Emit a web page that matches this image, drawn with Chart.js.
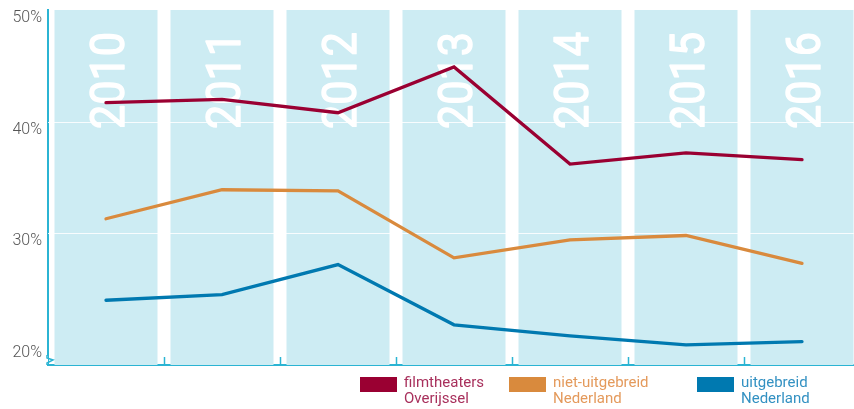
<!DOCTYPE html>
<html>
<head>
<meta charset="utf-8">
<script src="https://cdn.jsdelivr.net/npm/chart.js@4.4.1/dist/chart.umd.min.js"></script>
<style>
  html, body { margin: 0; padding: 0; background: #fff; overflow: hidden; width: 854px; height: 409px; }
  #wrap { position: absolute; left: 0; top: 0; width: 862px; height: 409px; }
  .leg { position: absolute; top: 374px; font-family: Roboto, sans-serif; font-size: 15px; line-height: 16px; }
  .leg .box { position: absolute; left: 0; top: 3px; width: 37px; height: 15px; }
  .leg .txt { position: absolute; left: 44px; top: 0; white-space: nowrap; }
</style>
</head>
<body>
<div id="wrap"><canvas id="c"></canvas></div>
<div id="legend"></div>
<script>
// ---- data ----
const years = ['2010', '2011', '2012', '2013', '2014', '2015', '2016'];
const filmtheatersOverijssel = [41.7, 42.0, 40.8, 44.9, 36.2, 37.2, 36.6];
const nietUitgebreidNederland = [31.3, 33.9, 33.8, 27.8, 29.4, 29.8, 27.3];
const uitgebreidNederland = [24.0, 24.5, 27.2, 21.8, 20.8, 20.0, 20.3];
const yTickValues = [20, 30, 40, 50];
const seriesNames = [['filmtheaters', 'Overijssel'], ['niet-uitgebreid', 'Nederland'], ['uitgebreid', 'Nederland']];

const Y_MIN = 18.2, Y_MAX = 50;
const colors = ['#9a0032', '#d98a3d', '#0079b0'];
const textColors = ['#a8305c', '#e49a5c', '#3391c2'];
const AXIS = '#2bb4d3';
const BAND = '#cdecf3';

// ---- legend (HTML) ----
const legendX = [360, 509, 697];
const legEl = document.getElementById('legend');
seriesNames.forEach((n, i) => {
  const d = document.createElement('div');
  d.className = 'leg';
  d.style.left = legendX[i] + 'px';
  d.innerHTML = '<div class="box" style="background:' + colors[i] + '"></div><div class="txt" style="color:' + textColors[i] + '">' + n.join('<br>') + '</div>';
  legEl.appendChild(d);
});

const decor = {
  id: 'decor',
  afterDatasetDraw(chart, args) {
    if (args.index !== 0) return;
    const ctx = chart.ctx, x = chart.scales.x, y = chart.scales.y, ca = chart.chartArea;
    ctx.save();
    ctx.strokeStyle = 'rgba(255,255,255,0.85)';
    ctx.lineWidth = 1.2;
    [30, 40].forEach(v => {
      const py = Math.round(y.getPixelForValue(v)) + 0.5;
      ctx.beginPath(); ctx.moveTo(ca.left, py); ctx.lineTo(ca.right, py); ctx.stroke();
    });
    ctx.fillStyle = '#ffffff';
    ctx.strokeStyle = '#ffffff';
    ctx.lineWidth = 1.4;
    ctx.lineJoin = 'round';
    ctx.font = '400 49px Roboto';
    ctx.textAlign = 'left';
    ctx.textBaseline = 'alphabetic';
    years.forEach((yr, i) => {
      const cx = x.getPixelForValue(i);
      ctx.save();
      ctx.translate(cx + 18, 129);
      ctx.rotate(-Math.PI / 2);
      ctx.scale(0.88, 1);
      ctx.fillText(yr, 0, 0);
      ctx.strokeText(yr, 0, 0);
      ctx.restore();
    });
    ctx.strokeStyle = AXIS;
    ctx.lineWidth = 1.5;
    for (let i = 0; i < years.length - 1; i++) {
      const bx = Math.round((x.getPixelForValue(i) + x.getPixelForValue(i + 1)) / 2) + 0.5;
      ctx.beginPath(); ctx.moveTo(bx, ca.bottom - 8); ctx.lineTo(bx, ca.bottom - 1); ctx.stroke();
    }
    ctx.restore();
  },
  afterDraw(chart) {
    const ctx = chart.ctx, ca = chart.chartArea;
    ctx.save();
    ctx.fillStyle = '#fff';
    ctx.fillRect(ca.left - 3, ca.bottom - 9, 3, 8);
    ctx.strokeStyle = AXIS;
    ctx.lineWidth = 1.5;
    ctx.beginPath();
    ctx.moveTo(ca.left - 1, ca.bottom - 10);
    ctx.lineTo(ca.left - 1, ca.bottom - 7);
    ctx.lineTo(ca.left + 5, ca.bottom - 5);
    ctx.lineTo(ca.left - 1, ca.bottom - 2);
    ctx.lineTo(ca.left - 1, ca.bottom);
    ctx.stroke();
    ctx.restore();
  }
};

const lineDs = (data, i) => ({
  type: 'line', data, borderColor: colors[i], backgroundColor: colors[i],
  borderWidth: 3.3, pointRadius: 0, tension: 0, order: 1,
  borderCapStyle: 'round', borderJoinStyle: 'miter'
});

new Chart(document.getElementById('c'), {
  type: 'bar',
  data: {
    labels: years,
    datasets: [
      { type: 'bar', data: years.map(() => [Y_MIN, Y_MAX]), backgroundColor: BAND,
        barPercentage: 0.888, categoryPercentage: 1, order: 10, borderWidth: 0 },
      lineDs(filmtheatersOverijssel, 0),
      lineDs(nietUitgebreidNederland, 1),
      lineDs(uitgebreidNederland, 2)
    ]
  },
  options: {
    responsive: true, maintainAspectRatio: false, animation: false,
    layout: { padding: { top: 10, right: 2, left: 0, bottom: 0 } },
    plugins: { legend: { display: false }, tooltip: { enabled: false } },
    scales: {
      x: {
        grid: { display: false },
        ticks: { display: false },
        border: { color: AXIS, width: 2 },
        afterFit(s) { s.height = 44; s.paddingLeft = 0; s.paddingRight = 0; }
      },
      y: {
        min: Y_MIN, max: Y_MAX,
        afterBuildTicks(s) { s.ticks = yTickValues.map(v => ({ value: v })); },
        grid: { display: false, drawTicks: false },
        border: { color: AXIS, width: 2 },
        ticks: {
          padding: 6, labelOffset: 8, color: '#555555',
          font: { family: 'Roboto', size: 16, weight: '300' },
          callback: v => v + '%'
        },
        afterFit(s) { s.width = 48; s.paddingTop = 0; s.paddingBottom = 0; }
      }
    }
  },
  plugins: [decor]
});
</script>
</body>
</html>
